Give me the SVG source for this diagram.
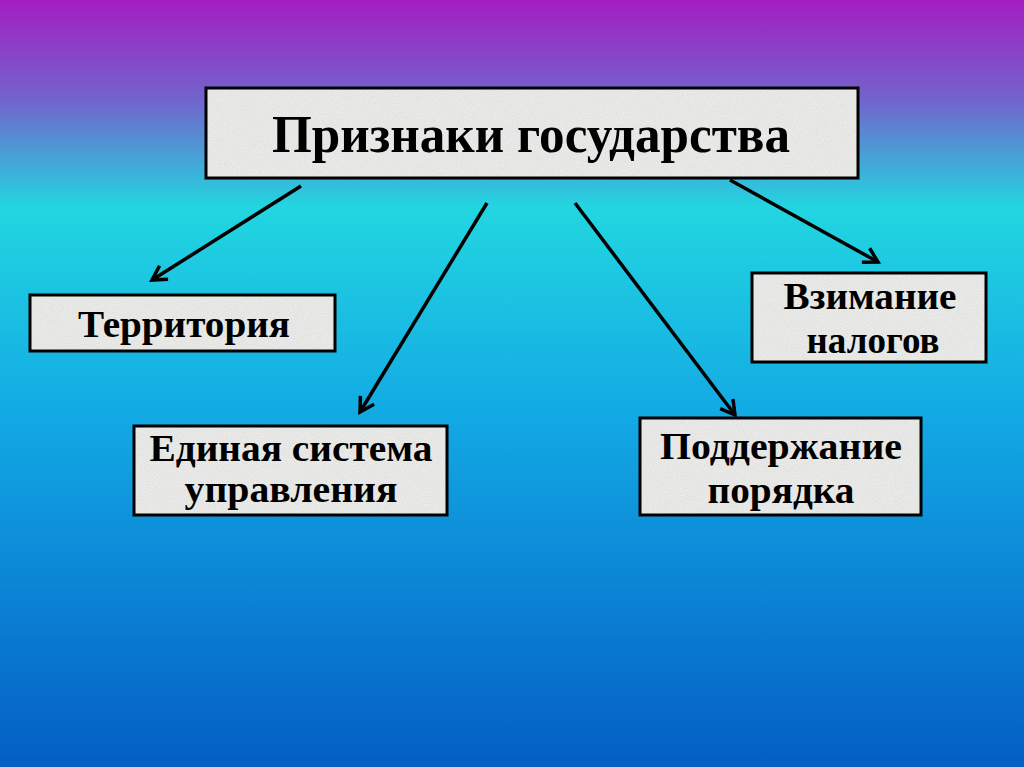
<svg xmlns="http://www.w3.org/2000/svg" width="1024" height="767" viewBox="0 0 1024 767">
<defs>
<linearGradient id="bg" x1="0" y1="0" x2="0" y2="1">
<stop offset="0" stop-color="#a41ec0"/>
<stop offset="0.13" stop-color="#7264cc"/>
<stop offset="0.27" stop-color="#22d6e0"/>
<stop offset="0.55" stop-color="#12a8e4"/>
<stop offset="1" stop-color="#045ec4"/>
</linearGradient>
<filter id="grain" x="0" y="0" width="100%" height="100%">
<feTurbulence type="fractalNoise" baseFrequency="0.9" numOctaves="2" seed="3" result="n"/>
<feColorMatrix in="n" type="matrix" values="0 0 0 0 0.6  0 0 0 0 0.6  0 0 0 0 0.6  0 0 0 0.8 -0.25" result="g"/>
<feComposite in="g" in2="SourceGraphic" operator="in" result="gi"/>
<feMerge><feMergeNode in="SourceGraphic"/><feMergeNode in="gi"/></feMerge>
</filter>
<marker id="arr" viewBox="0 0 20 20" refX="17" refY="10" markerWidth="20" markerHeight="20" markerUnits="userSpaceOnUse" orient="auto">
<path d="M3,2 L17,10 L3,18" fill="none" stroke="#000" stroke-width="3.5"/>
</marker>
</defs>
<style>
.fill{fill:#ebebe9;stroke:none}
.box{fill:none;stroke:#000;stroke-width:3}
.t{font-family:"Liberation Serif","Times New Roman",serif;font-weight:bold;fill:#000;text-anchor:middle}
.c{stroke:#000;stroke-width:3.5;fill:none;marker-end:url(#arr)}
</style>
<rect x="0" y="0" width="1024" height="767" fill="url(#bg)"/>
<g id="connectors">
<line class="c" x1="301" y1="186" x2="152" y2="280"/>
<line class="c" x1="487" y1="203" x2="360" y2="412"/>
<line class="c" x1="575" y1="203" x2="735" y2="415"/>
<line class="c" x1="730" y1="180" x2="878" y2="262"/>
</g>
<g id="root">
<rect class="fill" x="206" y="88" width="652" height="90" filter="url(#grain)"/>
<rect class="box" x="206" y="88" width="652" height="90"/>
<text class="t" x="531" y="152" font-size="52" textLength="518" lengthAdjust="spacingAndGlyphs">Признаки государства</text>
</g>
<g id="territory">
<rect class="fill" x="30" y="295" width="305" height="56" filter="url(#grain)"/>
<rect class="box" x="30" y="295" width="305" height="56"/>
<text class="t" x="184" y="337" font-size="38" textLength="212" lengthAdjust="spacingAndGlyphs">Территория</text>
</g>
<g id="government">
<rect class="fill" x="134" y="426" width="313" height="89" filter="url(#grain)"/>
<rect class="box" x="134" y="426" width="313" height="89"/>
<text class="t" x="291" y="461" font-size="38" textLength="283" lengthAdjust="spacingAndGlyphs">Единая система</text>
<text class="t" x="291" y="502" font-size="38" textLength="213" lengthAdjust="spacingAndGlyphs">управления</text>
</g>
<g id="order">
<rect class="fill" x="640" y="418" width="281" height="97" filter="url(#grain)"/>
<rect class="box" x="640" y="418" width="281" height="97"/>
<text class="t" x="781" y="459" font-size="38" textLength="242" lengthAdjust="spacingAndGlyphs">Поддержание</text>
<text class="t" x="781" y="503" font-size="38" textLength="147" lengthAdjust="spacingAndGlyphs">порядка</text>
</g>
<g id="taxes">
<rect class="fill" x="752" y="273" width="234" height="89" filter="url(#grain)"/>
<rect class="box" x="752" y="273" width="234" height="89"/>
<text class="t" x="870" y="309" font-size="38" textLength="173" lengthAdjust="spacingAndGlyphs">Взимание</text>
<text class="t" x="873" y="353" font-size="38" textLength="133" lengthAdjust="spacingAndGlyphs">налогов</text>
</g>
</svg>
